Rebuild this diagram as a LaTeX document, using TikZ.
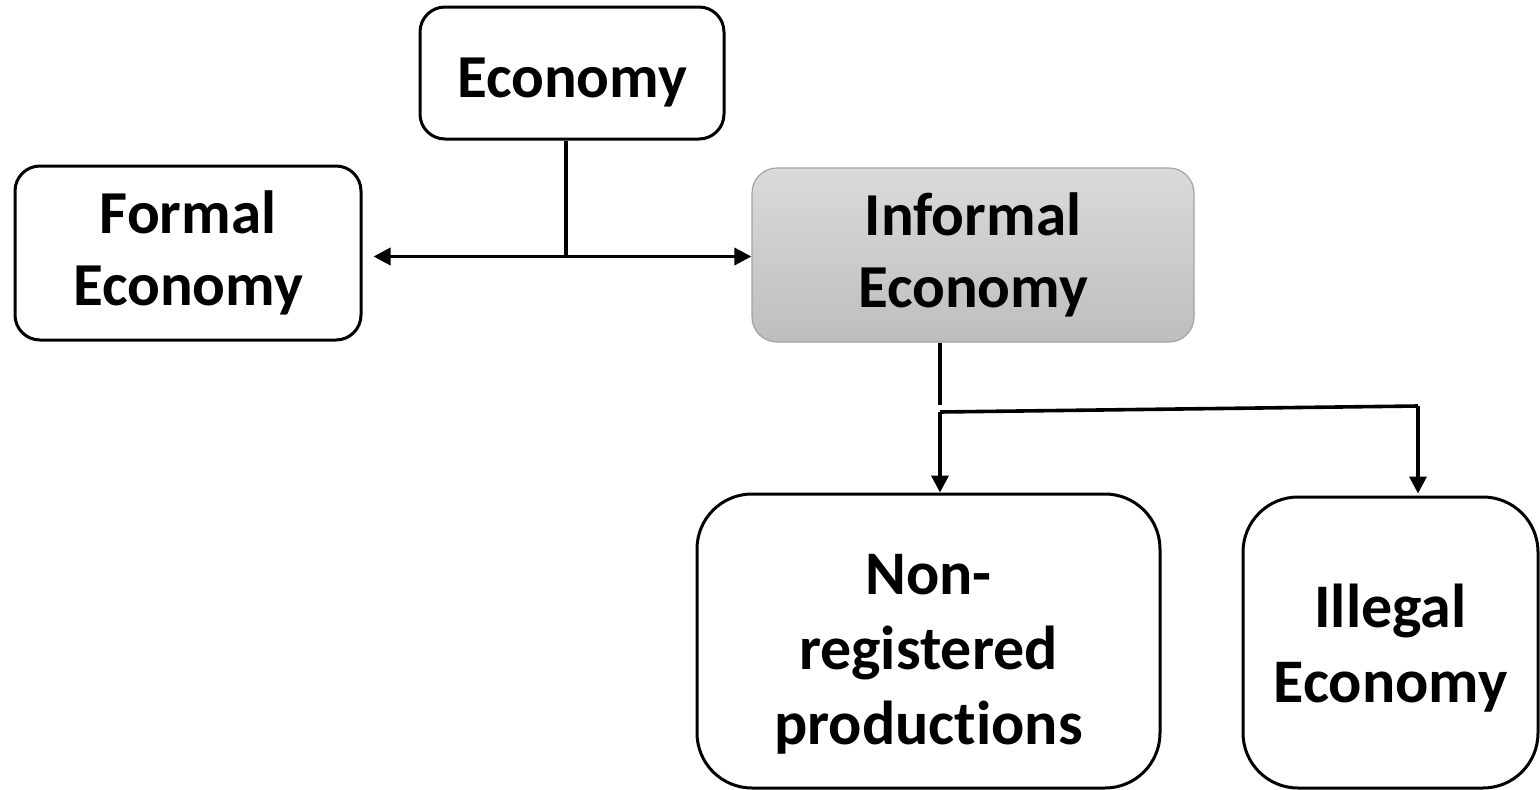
\documentclass[tikz,border=0pt]{standalone}
\usepackage{fontspec}
\setmainfont{Carlito}[Ligatures={TeX,NoCommon}]
\usetikzlibrary{calc,positioning,arrows.meta}
\definecolor{edgegray}{HTML}{A3A3A3}
\definecolor{topgray}{HTML}{DADADA}
\definecolor{botgray}{HTML}{BEBEBE}

\begin{document}
\begin{tikzpicture}[x=1pt,y=-1pt,
		box/.style={draw,line width=3pt,rounded corners=25pt,align=center,inner sep=0pt,
			font=\fontsize{61}{72}\selectfont\bfseries},
		bigbox/.style={box,rounded corners=55pt,font=\fontsize{62}{75}\selectfont\bfseries},
		conn/.style={line width=3.6pt},
		arr/.style={conn,-{Triangle[length=17pt,width=17pt]}}]
			\useasboundingbox (0,0) rectangle (1540,790);
			% boxes
			\node[box,minimum width=304pt,minimum height=132pt,text height=58pt] (econ) at (572,73) {Economy};
			\node[box,minimum width=346pt,minimum height=174pt] (formal) at (188,253) {Formal\\Economy};
			\node[box,draw=edgegray,line width=1.2pt,top color=topgray,bottom color=botgray,
				minimum width=442pt,minimum height=174pt] (informal) at (973,255) {Informal\\Economy};
			\node[bigbox,minimum width=463pt,minimum height=294pt,text height=216pt] (nonreg) at (928.5,641) {Non-\\registered\\productions};
			\node[bigbox,minimum width=295pt,minimum height=291pt,text height=130pt] (illegal) at (1390.5,642.5) {Illegal\\Economy};
			% connectors
			\coordinate (tee) at ($(econ.south)+(-6,116)$);
			\draw[conn] (econ.south -| tee) -- (tee);
			\draw[arr,shorten >=11pt] (tee) -- (formal.east |- tee);
			\draw[arr] (tee) -- (informal.west |- tee);
			\coordinate (lt) at (940,412);
			\coordinate (rt) at (1418,406);
			\draw[conn] (informal.south -| lt) -- ($(lt)+(0,-7)$);
			\draw[conn] (lt) -- (rt);
			\draw[arr] (lt) -- (nonreg.north -| lt);
			\draw[arr] (rt) -- ($(illegal.north -| rt)+(0,-2)$);
		\end{tikzpicture}
\end{document}
